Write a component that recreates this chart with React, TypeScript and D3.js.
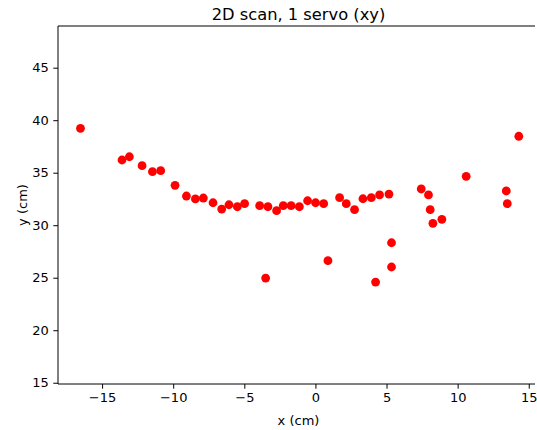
import React, { useRef, useEffect } from 'react';
import * as d3 from 'd3';

// scan points (cm)
const xValues = [
	-16.52, -13.6, -13.08, -12.19, -11.46, -10.88, -9.87, -9.07, -8.44, -7.88,
	-7.2, -6.59, -6.08, -5.49, -4.98, -3.92, -3.34, -2.73, -2.26, -1.71,
	-1.13, -0.55, 0.01, 0.58, 1.7, 2.17, 2.75, 3.34, 3.93, 4.51,
	5.17, 7.44, 7.95, 8.07, 8.26, 8.89, 10.6, 13.42, 13.49, 14.3,
	-3.5, 0.88, 5.35, 5.35, 4.23,
];
const yValues = [
	39.23, 36.21, 36.52, 35.67, 35.1, 35.19, 33.8, 32.78, 32.5, 32.59,
	32.14, 31.54, 31.95, 31.76, 32.05, 31.86, 31.76, 31.38, 31.86, 31.86,
	31.76, 32.33, 32.14, 32.05, 32.62, 32.05, 31.48, 32.52, 32.62, 32.88,
	32.97, 33.45, 32.88, 31.48, 30.18, 30.56, 34.66, 33.26, 32.05, 38.47,
	24.97, 26.62, 28.33, 26.02, 24.59,
];
const xTicks = [-15, -10, -5, 0, 5, 10, 15];
const yTicks = [15, 20, 25, 30, 35, 40, 45];

const width = 537;
const height = 430;
const margin = { top: 26, right: -2, bottom: 46, left: 58 };
const font = 'DejaVu Sans, sans-serif';
const minus = (v: number) => `${ v }`.replace('-', '\u2212');

const renderScatter = (ref: React.RefObject<SVGSVGElement | null>) => {
	const svg = d3.select(ref.current);
	svg.selectAll('*').remove();
	svg.attr('width', width).attr('height', height);

	const x = d3.scaleLinear().domain([-18.1, 15.72])
		.range([margin.left, width - margin.right]);
	const y = d3.scaleLinear().domain([14.88, 48.97])
		.range([height - margin.bottom, margin.top]);

	svg.append('rect')
		.attr('width', width)
		.attr('height', height)
		.attr('fill', '#fff');

	const xAxis = svg.append('g')
		.attr('transform', `translate(0,${ height - margin.bottom })`)
		.call(d3.axisBottom(x).tickValues(xTicks).tickSize(4.7).tickPadding(4.5)
			.tickFormat((d) => minus(d as number)));
	const yAxis = svg.append('g')
		.attr('transform', `translate(${ margin.left },0)`)
		.call(d3.axisLeft(y).tickValues(yTicks).tickSize(4.7).tickPadding(4.5)
			.tickFormat((d) => minus(d as number)));

	[xAxis, yAxis].forEach((ax) => {
		ax.selectAll('text').attr('font-family', font).attr('font-size', 13)
			.attr('fill', '#000');
		ax.selectAll('line').attr('stroke', '#000').attr('stroke-width', 1);
		ax.select('.domain').remove();
	});

	// spines: left, bottom, top (the right one falls outside the picture)
	const x0 = margin.left;
	const x1 = width - 2;
	const y0 = height - margin.bottom;
	const y1 = margin.top;
	const spines = [
		[x0, y1, x1, y1],
		[x0, y1, x0, y0],
		[x0, y0, x1, y0],
	];
	svg.append('g')
		.selectAll('line')
		.data(spines)
		.join('line')
		.attr('x1', (d) => d[0])
		.attr('y1', (d) => d[1])
		.attr('x2', (d) => d[2])
		.attr('y2', (d) => d[3])
		.attr('stroke', '#000')
		.attr('stroke-width', 1);

	svg.append('g')
		.selectAll('circle')
		.data(xValues.map((v, i) => [v, yValues[i]]))
		.join('circle')
		.attr('cx', (d) => x(d[0]))
		.attr('cy', (d) => y(d[1]))
		.attr('r', 4.4)
		.attr('fill', '#ff0000');

	svg.append('text')
		.text('2D scan, 1 servo (xy)')
		.attr('x', (x0 + width - margin.right) / 2)
		.attr('y', 19.5)
		.attr('text-anchor', 'middle')
		.attr('font-family', font)
		.attr('font-size', 16.3);

	svg.append('text')
		.text('x (cm)')
		.attr('x', (x0 + width - margin.right) / 2)
		.attr('y', 425)
		.attr('text-anchor', 'middle')
		.attr('font-family', font)
		.attr('font-size', 13);

	svg.append('text')
		.text('y (cm)')
		.attr('transform', `translate(22,${ (y0 + y1) / 2 }) rotate(-90)`)
		.attr('text-anchor', 'middle')
		.attr('dy', '0.35em')
		.attr('font-family', font)
		.attr('font-size', 13);
};

const App = () => {
	const ref = useRef<SVGSVGElement>(null);

	useEffect(() => {
		document.body.style.margin = '0';
		renderScatter(ref);
	}, []);

	return <svg ref={ ref } style={{ display: 'block' }}/>;
};

export default App;
